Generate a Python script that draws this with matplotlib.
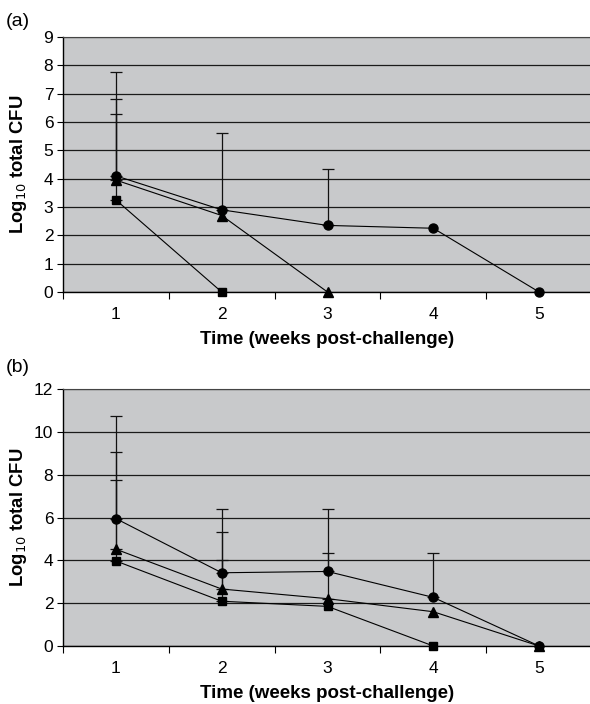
import numpy as np
import matplotlib.pyplot as plt

plt.rcParams['font.family'] = ['Liberation Sans', 'DejaVu Sans']

weeks = [1, 2, 3, 4, 5]

# panel (a)
a_circle = [4.1, 2.9, 2.35, 2.25, 0.0]
a_circle_up = [7.75, 5.6, 4.35, None, None]
a_triangle = [3.95, 2.7, 0.0]
a_triangle_up = [6.8, None, None]
a_square = [3.25, 0.0]
a_square_up = [6.3, None]

# panel (b)
b_circle = [5.95, 3.42, 3.48, 2.27, 0.0]
b_circle_up = [10.72, 6.4, 6.4, 4.36, None]
b_triangle = [4.52, 2.66, 2.21, 1.6, 0.0]
b_triangle_up = [9.06, 5.32, 4.36, None, None]
b_square = [3.97, 2.09, 1.85, 0.0]
b_square_up = [7.75, 4.0, None, None]

BG = '#c8c9cb'


def draw_series(ax, vals, ups, marker, ms):
    x = weeks[:len(vals)]
    ax.plot(x, vals, color='black', lw=0.8, marker=marker, ms=ms,
            mfc='black', mec='black', clip_on=False, zorder=4)
    for xi, v, u in zip(x, vals, ups):
        if u is None:
            continue
        ax.errorbar([xi], [v], yerr=[[0], [u - v]], fmt='none',
                    ecolor='#111111', elinewidth=0.9, capsize=4.5,
                    capthick=0.9, zorder=3)


def setup(ax, ymax, ystep, h):
    ax.set_facecolor(BG)
    ax.set_xlim(0.5, 5.5)
    ax.set_ylim(0, ymax)
    ax.set_yticks(np.arange(0, ymax + 0.1, ystep))
    ax.yaxis.grid(True, color='#1a1a1a', lw=0.9)
    ax.set_axisbelow(True)
    ax.set_xticks(weeks)
    ax.set_xticks([0.5, 1.5, 2.5, 3.5, 4.5], minor=True)
    ax.tick_params(axis='x', which='major', length=0, pad=11, labelsize=12.5)
    ax.tick_params(axis='x', which='minor', length=5, width=0.8, direction='out')
    ax.tick_params(axis='y', length=4, width=0.8, pad=3, labelsize=12.5)
    for s in ['left', 'bottom']:
        ax.spines[s].set_color('black')
        ax.spines[s].set_linewidth(1.0)
    ax.spines['top'].set_color('#444444')
    ax.spines['right'].set_color('#444444')
    ax.set_ylabel('Log$_{10}$ total CFU', fontsize=13.3, fontweight='bold',
                  va='center', ha='center')
    ax.yaxis.set_label_coords((19 - 63) / 529, 0.5)
    ax.set_xlabel('Time (weeks post-challenge)', fontsize=13.5,
                  fontweight='bold', va='baseline')
    ax.xaxis.set_label_coords(0.5, -51.5 / h)


fig = plt.figure(figsize=(5.9, 7.04), dpi=100)
ax1 = fig.add_axes([63 / 590, 1 - 292 / 704, 529 / 590, 255 / 704])
ax2 = fig.add_axes([63 / 590, 1 - 646 / 704, 529 / 590, 257 / 704])

setup(ax1, 9, 1, 255)
draw_series(ax1, a_square, a_square_up, 's', 6)
draw_series(ax1, a_triangle, a_triangle_up, '^', 6.5)
draw_series(ax1, a_circle, a_circle_up, 'o', 6.5)

setup(ax2, 12, 2, 257)
draw_series(ax2, b_square, b_square_up, 's', 6)
draw_series(ax2, b_triangle, b_triangle_up, '^', 6.5)
draw_series(ax2, b_circle, b_circle_up, 'o', 6.5)

fig.text(6 / 590, 1 - 22 / 704, '(a)', fontsize=14, ha='left', va='center')
fig.text(6 / 590, 1 - 368 / 704, '(b)', fontsize=14, ha='left', va='center')

fig.savefig('out.png', dpi=100)
